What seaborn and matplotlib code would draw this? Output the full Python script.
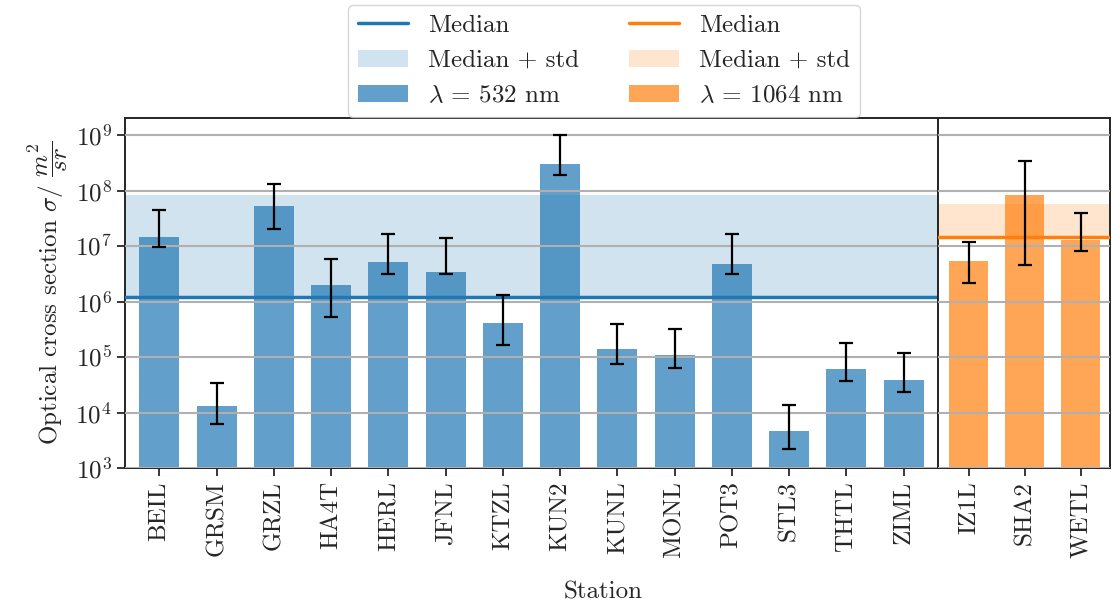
import numpy as np
import pandas as pd
import seaborn as sns
import matplotlib.pyplot as plt
from matplotlib.lines import Line2D
from matplotlib.patches import Patch

# data
stations_532 = ['BEIL', 'GRSM', 'GRZL', 'HA4T', 'HERL', 'JFNL', 'KTZL',
                'KUN2', 'KUNL', 'MONL', 'POT3', 'STL3', 'THTL', 'ZIML']
sigma_532 = [1.45e7, 1.3e4, 5.2e7, 2.0e6, 5.1e6, 3.4e6, 4.1e5,
             3.0e8, 1.4e5, 1.1e5, 4.8e6, 4.6e3, 6.0e4, 3.9e4]
err_hi_532 = [4.5e7, 3.4e4, 1.3e8, 5.9e6, 1.65e7, 1.4e7, 1.3e6,
              1.0e9, 3.9e5, 3.2e5, 1.65e7, 1.36e4, 1.8e5, 1.2e5]
err_lo_532 = [9.5e6, 6.2e3, 2.0e7, 5.3e5, 3.2e6, 3.2e6, 1.65e5,
              1.9e8, 7.4e4, 6.3e4, 3.2e6, 2.2e3, 3.7e4, 2.3e4]
median_532 = 1.2e6
median_std_532 = 8.3e7

stations_1064 = ['IZ1L', 'SHA2', 'WETL']
sigma_1064 = [5.4e6, 8.3e7, 1.3e7]
err_hi_1064 = [1.2e7, 3.4e8, 4.0e7]
err_lo_1064 = [2.2e6, 4.6e6, 8.2e6]
median_1064 = 1.45e7
median_std_1064 = 5.8e7

sns.set_style('white')
fs = 18
plt.rcParams.update({
    'font.family': 'serif',
    'font.serif': ['cmr10', 'DejaVu Serif'],
    'mathtext.fontset': 'cm',
    'axes.formatter.use_mathtext': True,
    'axes.unicode_minus': False,
    'font.size': fs,
    'xtick.labelsize': fs,
    'ytick.labelsize': fs,
    'axes.labelsize': fs,
    'legend.fontsize': fs,
})

blue = 'tab:blue'
orange = 'tab:orange'

fig, (ax1, ax2) = plt.subplots(1, 2, figsize=(11.13, 6.08), dpi=100, sharey=True,
                               gridspec_kw={'width_ratios': [813, 172], 'wspace': 0})
fig.subplots_adjust(left=125/1113, right=1110/1113, top=1-118/608, bottom=1-468/608)


def panel(ax, names, vals, lo, hi, med, medstd, color):
    df = pd.DataFrame({'station': names, 'sigma': vals})
    ax.axhspan(med, medstd, color=color, alpha=0.2, lw=0, zorder=0)
    sns.barplot(data=df, x='station', y='sigma', color=color, alpha=0.7,
                width=0.7, saturation=1, linewidth=0, ax=ax, zorder=1)
    v = np.array(vals)
    ax.errorbar(np.arange(len(names)), v, yerr=[v - np.array(lo), np.array(hi) - v],
                fmt='none', ecolor='black', elinewidth=1.6, capsize=5, capthick=1.6, zorder=4)
    ax.axhline(med, color=color, lw=2.5, zorder=3)
    ax.set_yscale('log')
    ax.grid(axis='y', color='#b0b0b0', lw=1.5, zorder=2)
    ax.set_axisbelow(False)
    ax.tick_params(axis='x', rotation=90, length=6, width=1.3, bottom=True, labelsize=fs)
    ax.set_xlabel('')
    for s in ax.spines.values():
        s.set_linewidth(1.4)


panel(ax1, stations_532, sigma_532, err_lo_532, err_hi_532, median_532, median_std_532, blue)
panel(ax2, stations_1064, sigma_1064, err_lo_1064, err_hi_1064, median_1064, median_std_1064, orange)

ax1.set_xlim(-0.6, 13.6)
ax2.set_xlim(-0.55, 2.52)
ax1.set_ylim(1e3, 10 ** 9.31)
ax1.set_yticks([10.0 ** k for k in range(3, 10)])
ax1.minorticks_off()
ax2.minorticks_off()
ax1.tick_params(axis='y', left=True, length=6, width=1.3, labelsize=fs)
ax2.tick_params(axis='y', left=False)
ax1.set_ylabel(r'Optical cross section $\sigma$/ $\dfrac{m^2}{sr}$', fontsize=fs)
ax2.set_ylabel('')

fig.text(603/1113, 1 - 592/608, 'Station', ha='center', va='center', fontsize=fs)

handles = [Line2D([], [], color=blue, lw=2.5),
           Patch(color=blue, alpha=0.2, lw=0),
           Patch(color=blue, alpha=0.7, lw=0),
           Line2D([], [], color=orange, lw=2.5),
           Patch(color=orange, alpha=0.2, lw=0),
           Patch(color=orange, alpha=0.7, lw=0)]
labels = ['Median', 'Median + std', r'$\lambda$ = 532 nm',
          'Median', 'Median + std', r'$\lambda$ = 1064 nm']
fig.legend(handles, labels, ncol=2, loc='lower center', fontsize=fs,
           borderaxespad=0, bbox_to_anchor=(604/1113, 1 - 117/608), frameon=True)

fig.savefig('out.png', dpi=100)
